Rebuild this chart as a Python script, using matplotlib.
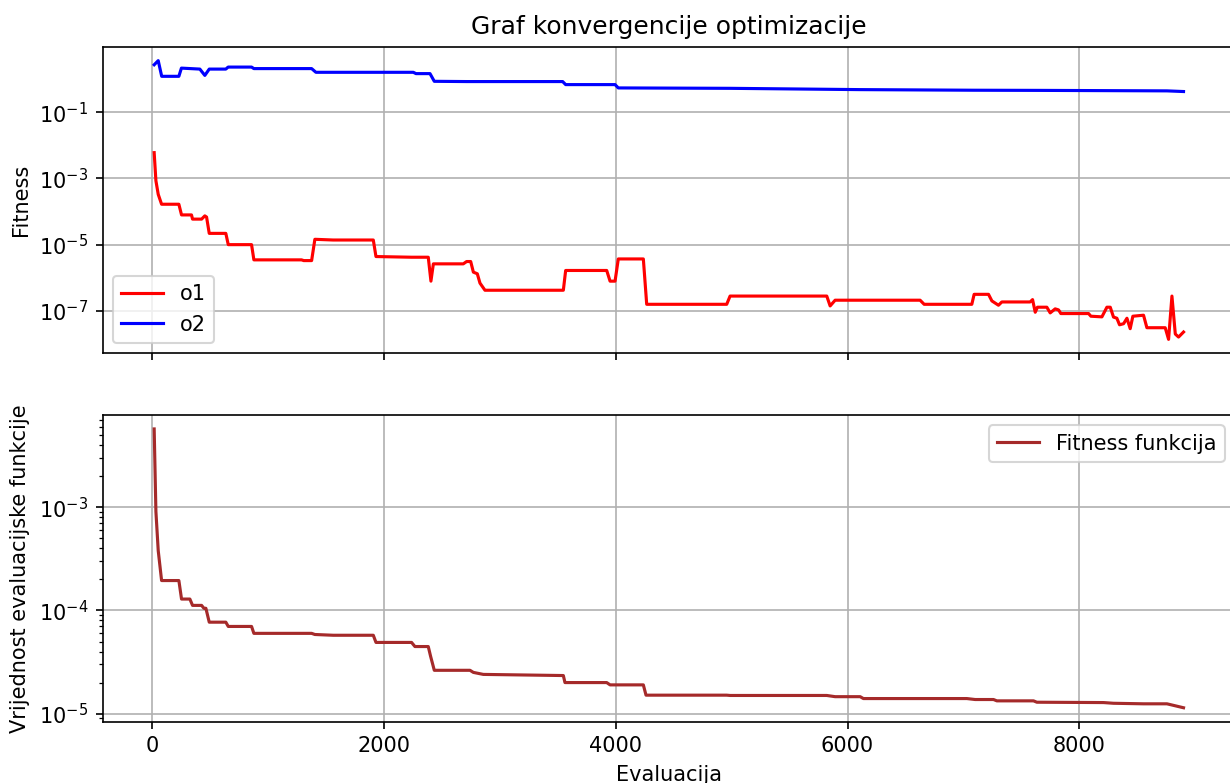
import matplotlib
matplotlib.use("Agg")
import matplotlib.pyplot as plt

# ---- data ----
o1_x = [20, 35, 55, 84, 233, 256, 342, 351, 429, 457, 472, 495, 638, 659, 860,
        880, 1291, 1310, 1378, 1406, 1563, 1910, 1933, 2240, 2384, 2407, 2428,
        2686, 2715, 2750, 2773, 2807, 2830, 2873, 3549, 3569, 3923, 3952, 3995,
        4023, 4239, 4268, 4958, 4987, 5821, 5850, 5893, 6626, 6661, 7072, 7092,
        7216, 7245, 7302, 7331, 7575, 7596, 7619, 7638, 7719, 7748, 7791, 7820,
        7840, 8079, 8099, 8194, 8237, 8266, 8294, 8323, 8346, 8381, 8410, 8438,
        8461, 8553, 8582, 8740, 8769, 8798, 8827, 8855, 8898]
o1_y = [6.0e-3, 8.5e-4, 3.3e-4, 1.66e-4, 1.66e-4, 7.9e-5, 7.9e-5, 5.9e-5, 5.9e-5,
        7.4e-5, 6.8e-5, 2.19e-5, 2.19e-5, 1.0e-5, 1.0e-5, 3.47e-6, 3.47e-6,
        3.3e-6, 3.3e-6, 1.45e-5, 1.38e-5, 1.38e-5, 4.37e-6, 4.17e-6, 4.17e-6,
        7.9e-7, 2.63e-6, 2.63e-6, 3.09e-6, 3.09e-6, 1.48e-6, 1.32e-6, 6.9e-7,
        4.2e-7, 4.2e-7, 1.66e-6, 1.66e-6, 7.9e-7, 7.9e-7, 3.7e-6, 3.7e-6,
        1.58e-7, 1.58e-7, 2.8e-7, 2.8e-7, 1.41e-7, 2.1e-7, 2.1e-7, 1.58e-7,
        1.58e-7, 3.16e-7, 3.16e-7, 2.0e-7, 1.48e-7, 1.86e-7, 1.86e-7, 2.19e-7,
        9.1e-8, 1.29e-7, 1.29e-7, 8.7e-8, 1.15e-7, 1.07e-7, 8.3e-8, 8.3e-8,
        6.9e-8, 6.6e-8, 1.29e-7, 1.29e-7, 6.5e-8, 6.0e-8, 3.8e-8, 4.1e-8,
        6.0e-8, 2.9e-8, 6.9e-8, 7.4e-8, 3.1e-8, 3.1e-8, 1.38e-8, 2.8e-7,
        2.0e-8, 1.62e-8, 2.3e-8]

o2_x = [20, 55, 85, 233, 255, 414, 457, 495, 638, 658, 860, 880, 1378, 1415,
        2255, 2278, 2399, 2436, 2715, 3543, 3569, 3995, 4023, 4987, 6109, 7085,
        7662, 8755, 8898]
o2_y = [2.7, 3.6, 1.21, 1.21, 2.14, 2.0, 1.29, 2.0, 2.0, 2.3, 2.3, 2.07, 2.07,
        1.60, 1.60, 1.46, 1.46, 0.855, 0.84, 0.84, 0.68, 0.68, 0.54, 0.525,
        0.48, 0.46, 0.455, 0.44, 0.42]

fit_x = [20, 35, 55, 84, 233, 256, 328, 351, 429, 449, 466, 495, 638, 659, 860,
         880, 1378, 1406, 1565, 1910, 1933, 2240, 2269, 2384, 2404, 2436, 2744,
         2773, 2859, 3549, 3563, 3923, 3952, 4239, 4262, 4958, 4987, 5821, 5893,
         6109, 6137, 7029, 7101, 7259, 7288, 7604, 7633, 8208, 8294, 8553, 8755,
         8898]
fit_y = [5.75e-3, 9.1e-4, 3.8e-4, 1.95e-4, 1.95e-4, 1.29e-4, 1.29e-4, 1.12e-4,
         1.12e-4, 1.05e-4, 1.05e-4, 7.7e-5, 7.7e-5, 7.0e-5, 7.0e-5, 6.0e-5,
         6.0e-5, 5.85e-5, 5.75e-5, 5.75e-5, 4.9e-5, 4.9e-5, 4.47e-5, 4.47e-5,
         3.6e-5, 2.63e-5, 2.63e-5, 2.51e-5, 2.4e-5, 2.34e-5, 2.0e-5, 2.0e-5,
         1.9e-5, 1.9e-5, 1.51e-5, 1.51e-5, 1.5e-5, 1.5e-5, 1.46e-5, 1.46e-5,
         1.40e-5, 1.40e-5, 1.37e-5, 1.37e-5, 1.33e-5, 1.33e-5, 1.29e-5, 1.28e-5,
         1.26e-5, 1.245e-5, 1.245e-5, 1.14e-5]

title = "Graf konvergencije optimizacije"

# ---- figure ----
W, H, DPI = 1230, 783, 150
fig, (ax1, ax2) = plt.subplots(2, 1, sharex=True, figsize=(W / DPI, H / DPI), dpi=DPI)

left = 102.7 / W
width = (1235 - 102.7) / W
ax1.set_position([left, 1 - 353.3 / H, width, (353.3 - 46.7) / H])
ax2.set_position([left, 1 - 721.7 / H, width, (721.7 - 415.0) / H])

ax1.plot(o1_x, o1_y, color="red", label="o1")
ax1.plot(o2_x, o2_y, color="blue", label="o2")
ax1.set_yscale("log")
ax1.set_ylabel("Fitness")
ax1.set_title(title)
ax1.grid(True)
ax1.legend(loc="lower left")

ax2.plot(fit_x, fit_y, color="brown", label="Fitness funkcija")
ax2.set_yscale("log")
ax2.set_xlabel("Evaluacija")
ax2.set_ylabel("Vrijednost evaluacijske funkcije")
ax2.grid(True)
ax2.legend(loc="upper right")

fig.savefig("out.png", dpi=DPI)
